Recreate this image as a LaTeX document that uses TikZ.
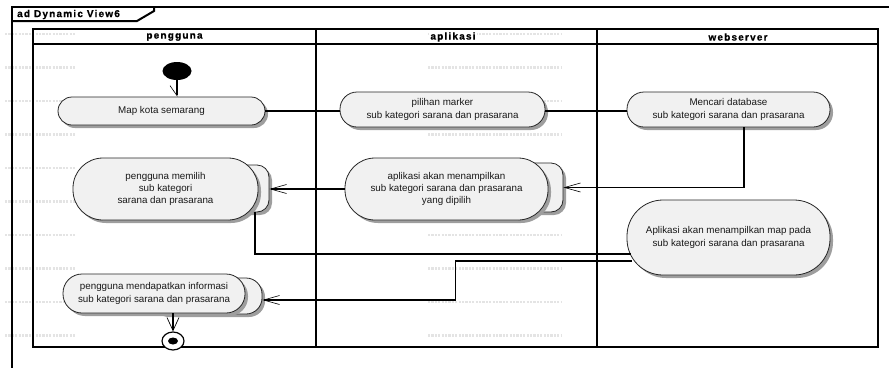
\documentclass[tikz,border=0pt]{standalone}
\usepackage{fontspec}
\setmainfont{Liberation Sans}
\newfontfamily\hdrfont[LetterSpace=12, BoldFont={Liberation Sans Bold}, BoldFeatures={FakeBold=0.8}]{Liberation Sans}
\usetikzlibrary{arrows.meta,shadows,shapes.geometric}
\definecolor{actfill}{HTML}{F1F1F1}
\definecolor{gridgray}{HTML}{E4E4E4}
\begin{document}
\begin{tikzpicture}[x=1pt,y=-1pt,
  act/.style={draw=black!85, line width=0.8pt, fill=actfill, align=center,
    font=\fontsize{9.8}{12.2}\selectfont, text=black!90, inner sep=0pt,
    drop shadow={shadow xshift=3pt, shadow yshift=-3pt, fill=black!38, opacity=1}},
  backact/.style={draw=black!85, line width=0.8pt, fill=actfill, inner sep=0pt,
    drop shadow={shadow xshift=3pt, shadow yshift=-3pt, fill=black!38, opacity=1}},
  conn/.style={line width=1.6pt, black},
  arr/.style={conn, -{Straight Barb[length=16pt,width=9pt,line width=0.6pt]}},
  arrdown/.style={conn, -{Straight Barb[length=13pt,width=12pt,line width=0.7pt]}},
  halfarr/.style={conn, -{Straight Barb[right,length=10pt,width=14pt,line width=0.6pt]}},
  frameline/.style={line width=2pt, black},
  laneline/.style={line width=2pt, black},
  lanehead/.style={font=\hdrfont\bfseries\fontsize{10}{11}\selectfont, inner sep=1pt},
  gridline/.style={gridgray, line width=2.6pt, dash pattern=on 2.2pt off 1.2pt}]
\useasboundingbox (0,0) rectangle (889,368);
% light grid marks
\foreach \yy in {34,67.5,101,134.5,168,201.5,235,268.5,302,335.5} {
  \draw[gridline] (5,\yy) -- (75,\yy);
  \draw[gridline] (428,\yy) -- (562,\yy);
}
% frame
\draw[frameline] (889,7) -- (12,7) -- (12,368);
\draw[frameline] (12,21) -- (137,21) -- (154,11) -- (154,7);
\node[anchor=west, font=\hdrfont\bfseries\fontsize{10}{11}\selectfont, inner sep=0pt] (title) at (17,14.5) {ad Dynamic View6};
% swimlanes
\draw[laneline] (33,29) rectangle (878,347);
\draw[laneline] (33,44) -- (878,44);
\draw[laneline] (316,29) -- (316,347);
\draw[laneline] (597,29) -- (597,347);
\node[lanehead] (h1) at (174.5,37) {pengguna};
\node[lanehead, fill=white] (h2) at (453,37) {aplikasi};
\node[lanehead] (h3) at (738,37) {webserver};
% start
\node[ellipse, fill=black, minimum width=29pt, minimum height=18pt, inner sep=0pt] (start) at (177,71) {};
% actions
\node[act, rounded corners=14pt, minimum width=207pt, minimum height=28pt] (map) at (161.5,111) {Map kota semarang};
\node[act, rounded corners=17pt, minimum width=205pt, minimum height=35pt] (pil) at (442.5,109.5) {pilihan marker\\sub kategori sarana dan prasarana};
\node[act, rounded corners=17pt, minimum width=203pt, minimum height=35pt] (cari) at (728.5,109.5) {Mencari database\\sub kategori sarana dan prasarana};
\node[backact, rounded corners=12pt, minimum width=93pt, minimum height=49pt] (aplb) at (516.5,187.5) {};
\node[act, rounded corners=30pt, minimum width=203pt, minimum height=62pt] (apl) at (446.5,189) {aplikasi akan menampilkan\\sub kategori sarana dan prasarana\\yang dipilih};
\node[backact, rounded corners=12pt, minimum width=89pt, minimum height=47pt] (pmb) at (224.5,188.5) {};
\node[act, rounded corners=30pt, minimum width=185pt, minimum height=62pt] (pm) at (165.5,189) {pengguna memilih\\sub kategori\\sarana dan prasarana};
\node[act, rounded corners=36pt, minimum width=203pt, minimum height=75pt] (aplmap) at (728.5,237.5) {Aplikasi akan menampilkan map pada\\sub kategori sarana dan prasarana};
\node[backact, rounded corners=16pt, minimum width=112pt, minimum height=36pt] (pmdb) at (206,296) {};
\node[act, rounded corners=19pt, minimum width=182pt, minimum height=39pt] (pmd) at (154,293.5) {pengguna mendapatkan informasi\\sub kategori sarana dan prasarana};
% final
\node[ellipse, draw=black, line width=1.2pt, fill=white, minimum width=22pt, minimum height=18pt, inner sep=0pt] (final) at (173,341) {};
\node[ellipse, fill=black, minimum width=10pt, minimum height=7pt, inner sep=0pt] (finaldot) at (final.center) {};
% connectors
\draw[halfarr] (start.south) -- (start.south |- map.north);
\draw[conn] (map.east) -- (map.east -| pil.west);
\draw[conn] ([yshift=-1.5pt]pil.east) -- ([yshift=-1.5pt]cari.west);
\draw[arr] ([xshift=15.5pt]cari.south) |- (aplb.east);
\draw[arr] (apl.west) -- (apl.west -| pmb.east);
\draw[conn] ([xshift=30.5pt]pmb.south) |- ([xshift=4pt,yshift=-16.5pt]aplmap.west);
\draw[arr] ([xshift=5pt,yshift=-23.5pt]aplmap.west) -- ++(-176,0) |- ([yshift=-4pt]pmdb.east);
\draw[arrdown] (final.north |- pmd.south) -- (final.north);
\end{tikzpicture}
\end{document}
